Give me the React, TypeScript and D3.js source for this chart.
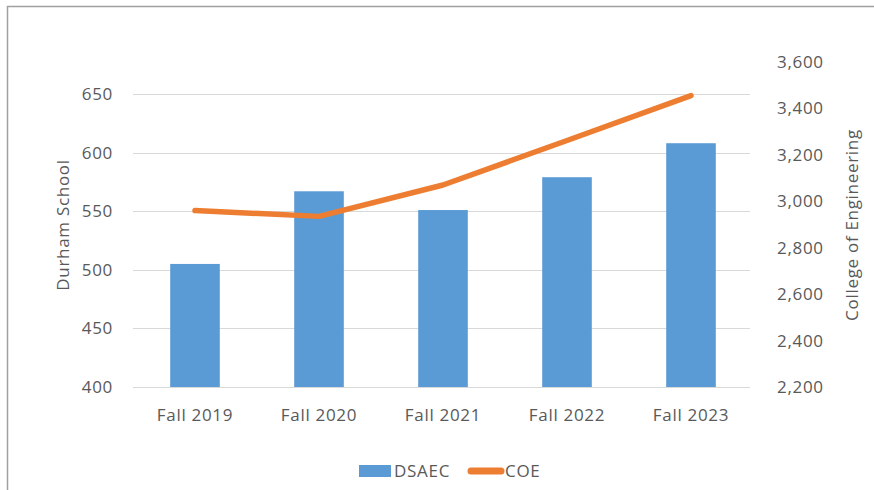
import React, { useEffect, useRef } from 'react';
import * as d3 from 'd3';

const terms = ['Fall 2019', 'Fall 2020', 'Fall 2021', 'Fall 2022', 'Fall 2023'];
const dsaec = [505, 567, 551, 579, 608];
const coe = [2960, 2935, 3070, 3262, 3455];
const leftTicks = [400, 450, 500, 550, 600, 650];
const rightTicks = [2200, 2400, 2600, 2800, 3000, 3200, 3400, 3600];

const FONT = '"Open Sans", "Noto Sans", sans-serif';
const TEXT = '#595959';

export default function App() {
  const svgRef = useRef<SVGSVGElement>(null);

  useEffect(() => {
    if (!svgRef.current) return;
    const svg = d3.select(svgRef.current);
    svg.selectAll('*').remove();

    const width = 874;
    const height = 490;
    const plot = { left: 133, right: 753, top: 62, bottom: 387 };

    // frame: only top and left edges show in the crop
    svg.append('path')
      .attr('d', `M7.5,${height} V6.5 H${width}`)
      .attr('fill', 'none')
      .attr('stroke', '#a0a0a0')
      .attr('stroke-width', 1.5);

    const x = d3.scaleBand()
      .domain(terms)
      .range([plot.left, plot.right])
      .paddingInner(0.6)
      .paddingOuter(0.3);

    const yLeft = d3.scaleLinear().domain([400, 650]).range([plot.bottom, 94]);
    const yRight = d3.scaleLinear().domain([2200, 3600]).range([plot.bottom, plot.top]);

    const g = svg.append('g')
      .style('font-family', FONT)
      .style('font-size', '17px')
      .style('letter-spacing', '0.7px');

    // gridlines
    g.selectAll('.grid')
      .data(leftTicks)
      .enter().append('line')
      .attr('x1', plot.left)
      .attr('x2', 750)
      .attr('y1', d => Math.round(yLeft(d)) + 0.5)
      .attr('y2', d => Math.round(yLeft(d)) + 0.5)
      .attr('stroke', '#d9d9d9')
      .attr('stroke-width', 1);

    // left tick labels
    g.selectAll('.ltick')
      .data(leftTicks)
      .enter().append('text')
      .attr('x', 113)
      .attr('y', d => yLeft(d))
      .attr('dy', '0.35em')
      .attr('text-anchor', 'end')
      .attr('fill', TEXT)
      .text(d => d);

    // right tick labels
    g.selectAll('.rtick')
      .data(rightTicks)
      .enter().append('text')
      .attr('x', 777)
      .attr('y', d => yRight(d))
      .attr('dy', '0.35em')
      .attr('text-anchor', 'start')
      .attr('fill', TEXT)
      .text(d => d3.format(',')(d));

    // bars
    g.selectAll('.bar')
      .data(dsaec)
      .enter().append('rect')
      .attr('x', (d, i) => x(terms[i]) || 0)
      .attr('y', d => yLeft(d))
      .attr('width', x.bandwidth())
      .attr('height', d => plot.bottom - yLeft(d))
      .attr('fill', '#5b9bd5');

    // x labels
    g.selectAll('.xlab')
      .data(terms)
      .enter().append('text')
      .attr('x', d => (x(d) || 0) + x.bandwidth() / 2)
      .attr('y', 421)
      .attr('text-anchor', 'middle')
      .attr('fill', TEXT)
      .text(d => d);

    // line
    const line = d3.line<number>()
      .x((d, i) => (x(terms[i]) || 0) + x.bandwidth() / 2)
      .y(d => yRight(d));

    g.append('path')
      .datum(coe)
      .attr('d', line)
      .attr('fill', 'none')
      .attr('stroke', '#ed7d31')
      .attr('stroke-width', 5.5)
      .attr('stroke-linecap', 'round')
      .attr('stroke-linejoin', 'round');

    // axis titles
    g.append('text')
      .attr('transform', `translate(69,225) rotate(-90)`)
      .attr('text-anchor', 'middle')
      .attr('fill', TEXT)
      .text('Durham School');

    g.append('text')
      .attr('transform', `translate(858,225) rotate(-90)`)
      .attr('text-anchor', 'middle')
      .attr('fill', TEXT)
      .text('College of Engineering');

    // legend
    const legend = g.append('g');
    legend.append('rect')
      .attr('x', 359)
      .attr('y', 465)
      .attr('width', 32)
      .attr('height', 12)
      .attr('fill', '#5b9bd5');
    legend.append('text')
      .attr('x', 394)
      .attr('y', 477)
      .attr('fill', TEXT)
      .text('DSAEC');
    legend.append('line')
      .attr('x1', 471)
      .attr('x2', 501)
      .attr('y1', 471)
      .attr('y2', 471)
      .attr('stroke', '#ed7d31')
      .attr('stroke-width', 7)
      .attr('stroke-linecap', 'round');
    legend.append('text')
      .attr('x', 505)
      .attr('y', 477)
      .attr('fill', TEXT)
      .text('COE');
  }, []);

  return (
    <svg
      ref={svgRef}
      width={874}
      height={490}
      style={{ position: 'absolute', left: 0, top: 0, background: '#fff' }}
    />
  );
}
